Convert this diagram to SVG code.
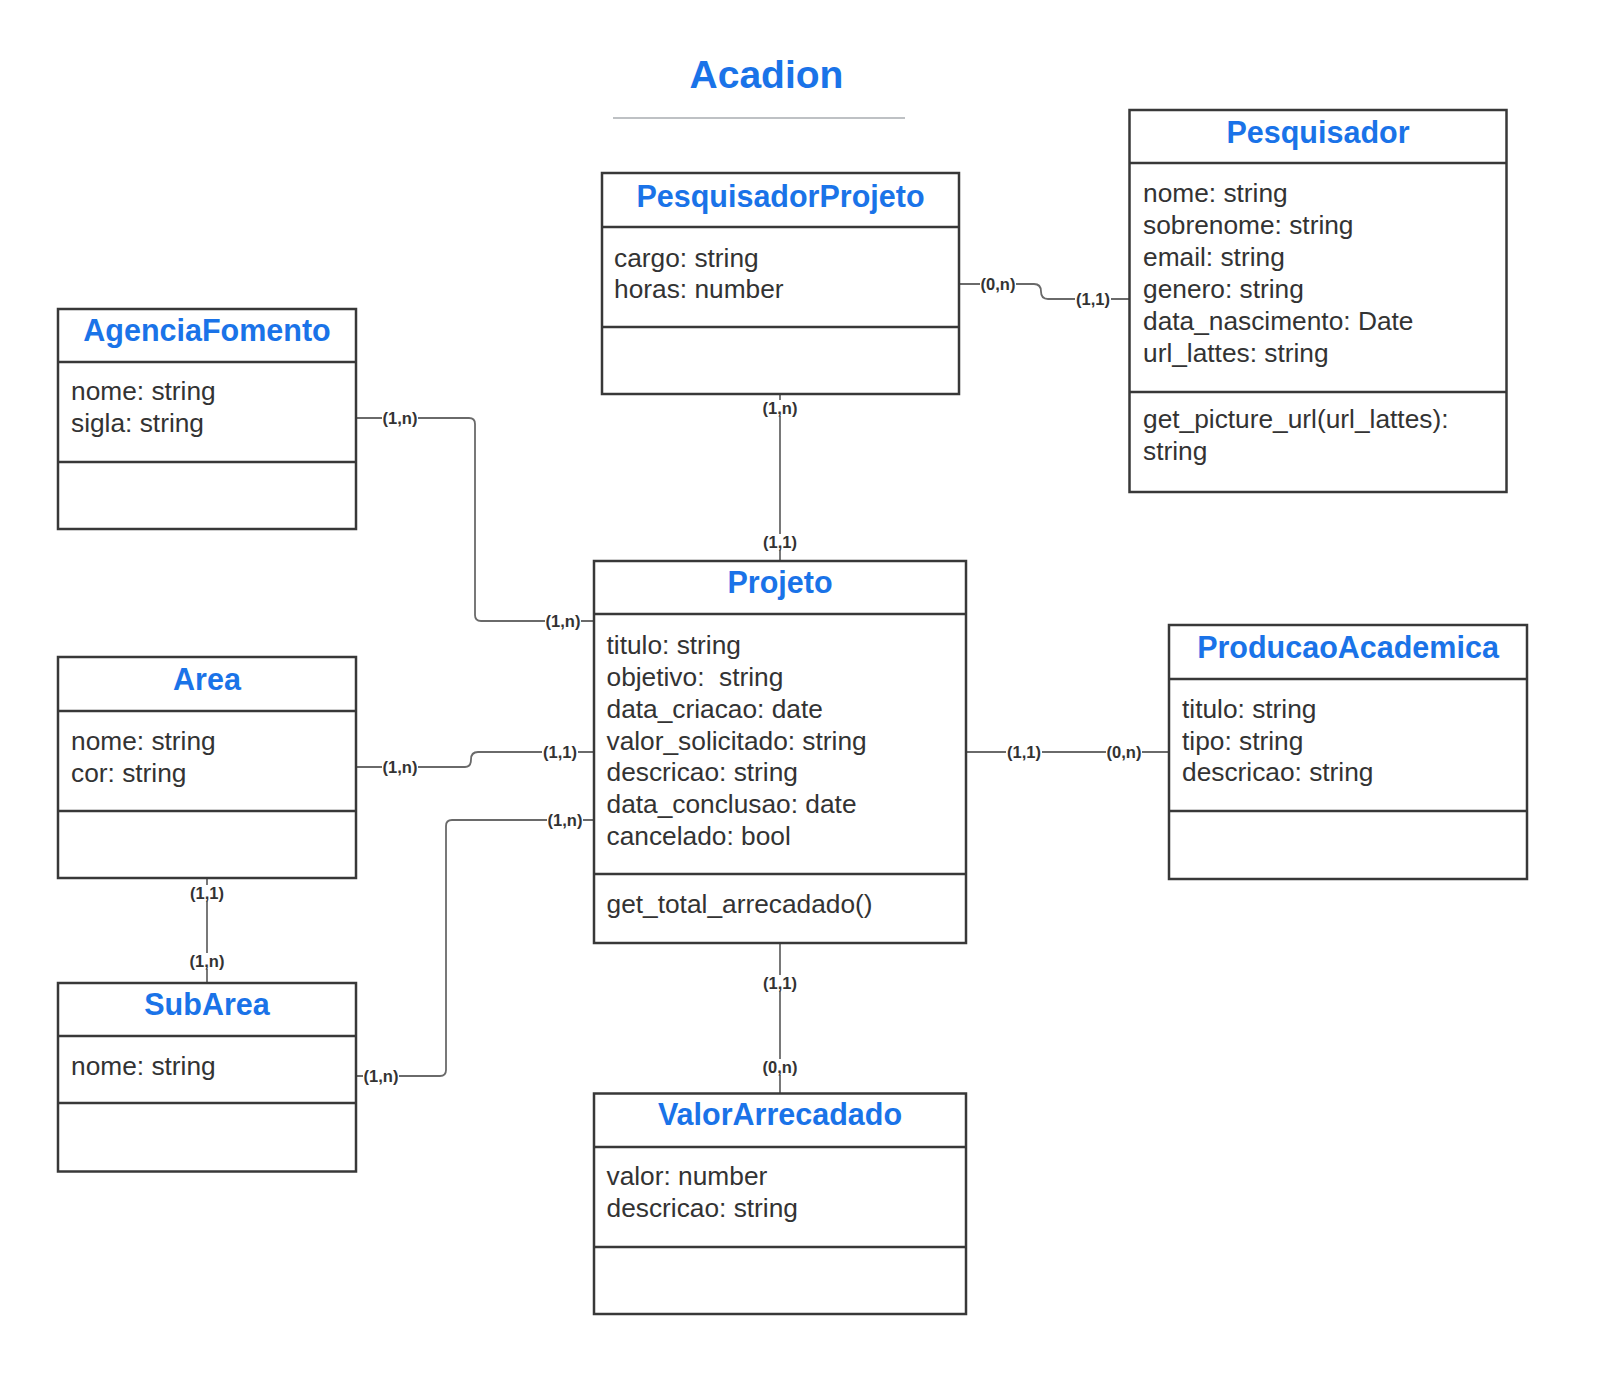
<svg xmlns="http://www.w3.org/2000/svg" width="1600" height="1373" viewBox="0 0 1600 1373">
<style>
.box{fill:#fff;stroke:#383838;stroke-width:2.5}
.div{stroke:#383838;stroke-width:2.5}
.ttl{font-family:"Liberation Sans",Arial,sans-serif;font-weight:bold;font-size:30.5px;fill:#1a73e8;text-anchor:middle}
.att{font-family:"Liberation Sans",Arial,sans-serif;font-size:26.3px;fill:#333}
.con{fill:none;stroke:#6a6a6a;stroke-width:1.8}
.lbl{font-family:"Liberation Sans",Arial,sans-serif;font-weight:bold;font-size:16.5px;fill:#333;text-anchor:middle}
.lbg{fill:#fff}
</style>
<rect width="1600" height="1373" fill="#fff"/>
<g id="title">
<text x="766.5" y="88" font-family="Liberation Sans, Arial, sans-serif" font-weight="bold" font-size="39" fill="#1a73e8" text-anchor="middle">Acadion</text>
<line x1="613" y1="118" x2="905" y2="118" stroke="#a8acb0" stroke-width="1.6"/>
</g>
<g id="connectors">
<path class="con" d="M959,284 H1034 Q1041,284 1041,291.5 Q1041,299 1048,299 H1130"/>
<path class="con" d="M780,394 V561"/>
<path class="con" d="M356,418 H469 Q475,418 475,424 V615 Q475,621 481,621 H594"/>
<path class="con" d="M356,767 H465 Q471,767 471,759.5 Q471,752 478,752 H594"/>
<path class="con" d="M594,820 H452 Q446,820 446,826 V1070 Q446,1076 440,1076 H356"/>
<path class="con" d="M207,878 V983"/>
<path class="con" d="M966,752 H1169"/>
<path class="con" d="M780,943 V1094"/>
<g id="labels">
<rect class="lbg" x="980" y="276" width="36" height="16"/><text class="lbl" x="998" y="290">(0,n)</text>
<rect class="lbg" x="1075" y="291" width="36" height="16"/><text class="lbl" x="1093" y="305">(1,1)</text>
<rect class="lbg" x="762" y="400" width="36" height="16"/><text class="lbl" x="780" y="414">(1,n)</text>
<rect class="lbg" x="762" y="534" width="36" height="16"/><text class="lbl" x="780" y="548">(1,1)</text>
<rect class="lbg" x="382" y="410" width="36" height="16"/><text class="lbl" x="400" y="424">(1,n)</text>
<rect class="lbg" x="545" y="613" width="36" height="16"/><text class="lbl" x="563" y="627">(1,n)</text>
<rect class="lbg" x="382" y="759" width="36" height="16"/><text class="lbl" x="400" y="773">(1,n)</text>
<rect class="lbg" x="542" y="744" width="36" height="16"/><text class="lbl" x="560" y="758">(1,1)</text>
<rect class="lbg" x="547" y="812" width="36" height="16"/><text class="lbl" x="565" y="826">(1,n)</text>
<rect class="lbg" x="363" y="1068" width="36" height="16"/><text class="lbl" x="381" y="1082">(1,n)</text>
<rect class="lbg" x="189" y="885" width="36" height="16"/><text class="lbl" x="207" y="899">(1,1)</text>
<rect class="lbg" x="189" y="953" width="36" height="16"/><text class="lbl" x="207" y="967">(1,n)</text>
<rect class="lbg" x="1006" y="744" width="36" height="16"/><text class="lbl" x="1024" y="758">(1,1)</text>
<rect class="lbg" x="1106" y="744" width="36" height="16"/><text class="lbl" x="1124" y="758">(0,n)</text>
<rect class="lbg" x="762" y="975" width="36" height="16"/><text class="lbl" x="780" y="989">(1,1)</text>
<rect class="lbg" x="762" y="1059" width="36" height="16"/><text class="lbl" x="780" y="1073">(0,n)</text>
</g>
</g>
<g id="PesquisadorProjeto">
<rect class="box" x="602" y="173" width="357" height="221"/>
<line class="div" x1="602" y1="227" x2="959" y2="227"/>
<line class="div" x1="602" y1="327" x2="959" y2="327"/>
<text class="ttl" x="780.5" y="206.5">PesquisadorProjeto</text>
<text class="att" x="614" y="266.5">cargo: string</text>
<text class="att" x="614" y="298">horas: number</text>
</g>
<g id="Pesquisador">
<rect class="box" x="1129.5" y="110" width="377" height="382"/>
<line class="div" x1="1129.5" y1="163" x2="1506.5" y2="163"/>
<line class="div" x1="1129.5" y1="392" x2="1506.5" y2="392"/>
<text class="ttl" x="1318" y="143">Pesquisador</text>
<text class="att" x="1143" y="202">nome: string</text>
<text class="att" x="1143" y="234">sobrenome: string</text>
<text class="att" x="1143" y="266">email: string</text>
<text class="att" x="1143" y="298">genero: string</text>
<text class="att" x="1143" y="330">data_nascimento: Date</text>
<text class="att" x="1143" y="361.5">url_lattes: string</text>
<text class="att" x="1143" y="428">get_picture_url(url_lattes):</text>
<text class="att" x="1143" y="460">string</text>
</g>
<g id="AgenciaFomento">
<rect class="box" x="58" y="309" width="298" height="220"/>
<line class="div" x1="58" y1="362" x2="356" y2="362"/>
<line class="div" x1="58" y1="462" x2="356" y2="462"/>
<text class="ttl" x="207" y="341">AgenciaFomento</text>
<text class="att" x="71" y="400">nome: string</text>
<text class="att" x="71" y="432">sigla: string</text>
</g>
<g id="Area">
<rect class="box" x="58" y="657" width="298" height="221"/>
<line class="div" x1="58" y1="711" x2="356" y2="711"/>
<line class="div" x1="58" y1="811" x2="356" y2="811"/>
<text class="ttl" x="207" y="690">Area</text>
<text class="att" x="71" y="750">nome: string</text>
<text class="att" x="71" y="782">cor: string</text>
</g>
<g id="SubArea">
<rect class="box" x="58" y="983" width="298" height="188.5"/>
<line class="div" x1="58" y1="1036" x2="356" y2="1036"/>
<line class="div" x1="58" y1="1103" x2="356" y2="1103"/>
<text class="ttl" x="207" y="1015">SubArea</text>
<text class="att" x="71" y="1075">nome: string</text>
</g>
<g id="Projeto">
<rect class="box" x="594" y="561" width="372" height="382"/>
<line class="div" x1="594" y1="614" x2="966" y2="614"/>
<line class="div" x1="594" y1="874" x2="966" y2="874"/>
<text class="ttl" x="780" y="593">Projeto</text>
<text class="att" x="606.5" y="654">titulo: string</text>
<text class="att" x="606.5" y="686" xml:space="preserve">objetivo:  string</text>
<text class="att" x="606.5" y="718">data_criacao: date</text>
<text class="att" x="606.5" y="749.5">valor_solicitado: string</text>
<text class="att" x="606.5" y="781">descricao: string</text>
<text class="att" x="606.5" y="813">data_conclusao: date</text>
<text class="att" x="606.5" y="845">cancelado: bool</text>
<text class="att" x="606.5" y="913">get_total_arrecadado()</text>
</g>
<g id="ProducaoAcademica">
<rect class="box" x="1169" y="625" width="358" height="254"/>
<line class="div" x1="1169" y1="679" x2="1527" y2="679"/>
<line class="div" x1="1169" y1="811" x2="1527" y2="811"/>
<text class="ttl" x="1348" y="658">ProducaoAcademica</text>
<text class="att" x="1182" y="718">titulo: string</text>
<text class="att" x="1182" y="749.5">tipo: string</text>
<text class="att" x="1182" y="781">descricao: string</text>
</g>
<g id="ValorArrecadado">
<rect class="box" x="594" y="1093.5" width="372" height="220.5"/>
<line class="div" x1="594" y1="1147" x2="966" y2="1147"/>
<line class="div" x1="594" y1="1247" x2="966" y2="1247"/>
<text class="ttl" x="780" y="1125">ValorArrecadado</text>
<text class="att" x="606.5" y="1185">valor: number</text>
<text class="att" x="606.5" y="1217">descricao: string</text>
</g>
</svg>
